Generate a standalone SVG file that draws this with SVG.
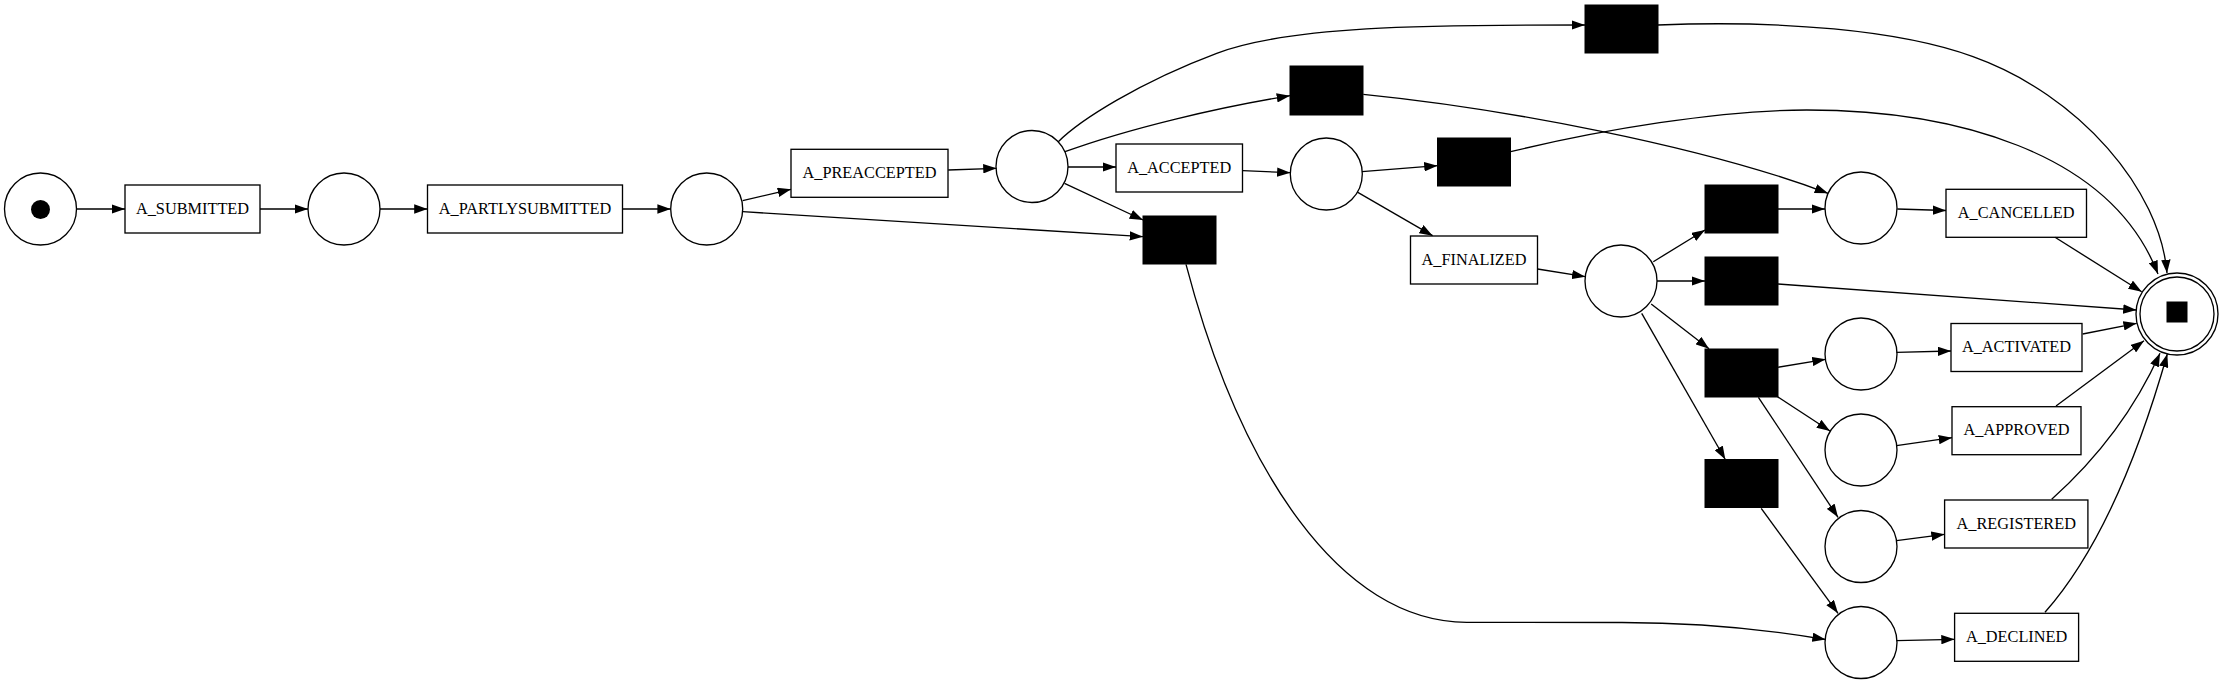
<svg xmlns="http://www.w3.org/2000/svg" width="2224" height="684" viewBox="0 0 2224 684">
<style>
.pl{fill:#fff;stroke:#000;stroke-width:1.33}
.tr{fill:#fff;stroke:#000;stroke-width:1.33}
.sil{fill:#000;stroke:#000;stroke-width:1}
.lb{font-family:"Liberation Serif","Times New Roman",serif;font-size:16.3px;fill:#000;text-anchor:middle}
.e{fill:none;stroke:#000;stroke-width:1.33;marker-end:url(#ah)}
</style>
<defs>
<marker id="ah" viewBox="0 0 13.3 9.4" refX="13.3" refY="4.7" markerWidth="13.3" markerHeight="9.4" markerUnits="userSpaceOnUse" orient="auto">
<path d="M0,0 L13.3,4.7 L0,9.4 z" fill="#000"/>
</marker>
</defs>
<rect width="2224" height="684" fill="#fff"/>
<g id="nodes">
<g id="p_start"><circle class="pl" cx="40.5" cy="209" r="36"/><circle cx="40.5" cy="209.5" r="9.5" fill="#000"/></g>
<g id="t_submitted"><rect class="tr" x="125" y="185" width="135" height="48"/><text class="lb" x="192.5" y="213.5">A_SUBMITTED</text></g>
<g id="p1"><circle class="pl" cx="344" cy="209" r="36"/></g>
<g id="t_partly"><rect class="tr" x="427.5" y="185" width="195" height="48"/><text class="lb" x="525" y="213.5">A_PARTLYSUBMITTED</text></g>
<g id="p2"><circle class="pl" cx="706.7" cy="209" r="36"/></g>
<g id="t_preaccepted"><rect class="tr" x="791" y="149.3" width="157" height="48"/><text class="lb" x="869.5" y="177.8">A_PREACCEPTED</text></g>
<g id="p3"><circle class="pl" cx="1032" cy="166.5" r="36"/></g>
<g id="t_accepted"><rect class="tr" x="1116" y="144" width="126.5" height="48"/><text class="lb" x="1179.2" y="172.5">A_ACCEPTED</text></g>
<g id="tau_top"><rect class="sil" x="1585" y="5" width="73" height="48"/></g>
<g id="tau2"><rect class="sil" x="1290" y="66" width="73" height="49"/></g>
<g id="p4"><circle class="pl" cx="1326.3" cy="174" r="36"/></g>
<g id="tau3"><rect class="sil" x="1437.5" y="138" width="73" height="48"/></g>
<g id="tau1"><rect class="sil" x="1143" y="216" width="73" height="48"/></g>
<g id="t_finalized"><rect class="tr" x="1410.5" y="236" width="127" height="48"/><text class="lb" x="1474" y="264.5">A_FINALIZED</text></g>
<g id="p5"><circle class="pl" cx="1621" cy="281" r="36"/></g>
<g id="tau4"><rect class="sil" x="1705" y="185" width="73" height="48"/></g>
<g id="tau5"><rect class="sil" x="1705" y="257" width="73" height="48"/></g>
<g id="tau6"><rect class="sil" x="1705" y="349" width="73" height="48"/></g>
<g id="tau7"><rect class="sil" x="1705" y="459.5" width="73" height="48"/></g>
<g id="p_canc"><circle class="pl" cx="1861" cy="208" r="36"/></g>
<g id="p_act"><circle class="pl" cx="1861" cy="354" r="36"/></g>
<g id="p_app"><circle class="pl" cx="1861" cy="450" r="36"/></g>
<g id="p_reg"><circle class="pl" cx="1861" cy="546.5" r="36"/></g>
<g id="p_dec"><circle class="pl" cx="1861" cy="642.5" r="36"/></g>
<g id="t_cancelled"><rect class="tr" x="1946" y="189.3" width="140.5" height="48"/><text class="lb" x="2016.2" y="217.8">A_CANCELLED</text></g>
<g id="t_activated"><rect class="tr" x="1951" y="323.5" width="131" height="48"/><text class="lb" x="2016.5" y="352">A_ACTIVATED</text></g>
<g id="t_approved"><rect class="tr" x="1952" y="406.7" width="129" height="48"/><text class="lb" x="2016.5" y="435.2">A_APPROVED</text></g>
<g id="t_registered"><rect class="tr" x="1944.6" y="500" width="143.3" height="48"/><text class="lb" x="2016.2" y="528.5">A_REGISTERED</text></g>
<g id="t_declined"><rect class="tr" x="1954.6" y="613.3" width="124" height="48"/><text class="lb" x="2016.6" y="641.8">A_DECLINED</text></g>
<g id="p_end"><circle class="pl" cx="2177" cy="314" r="41"/><circle class="pl" cx="2177" cy="314" r="37"/><rect x="2166.5" y="301.5" width="21" height="21" fill="#000"/></g>
</g>
<g id="connectors">
<path class="e" d="M76.5,209 L125,209"/>
<path class="e" d="M260,209 L308,209"/>
<path class="e" d="M380,209 L427.5,209"/>
<path class="e" d="M622.5,209 L670.7,209"/>
<path class="e" d="M742.7,200.7 L791,189.3"/>
<path class="e" d="M742.7,211.7 L1143,236.7"/>
<path class="e" d="M948.2,170 L996.5,168.3"/>
<path class="e" d="M1068,167 L1116,167"/>
<path class="e" d="M1064.5,183.3 L1143,220"/>
<path class="e" d="M1065,151.7 C1130,128 1220,107 1290,95.7"/>
<path class="e" d="M1058.3,141.7 C1080,120 1140,82 1216.7,53.3 C1290,26 1420,25 1585,25"/>
<path class="e" d="M1242.7,170.7 L1290.4,172.7"/>
<path class="e" d="M1362,171.7 L1437.5,165.7"/>
<path class="e" d="M1357.4,192.1 L1432.6,235.7"/>
<path class="e" d="M1537.5,269 L1585.3,276.7"/>
<path class="e" d="M1653.3,261.7 L1705,230"/>
<path class="e" d="M1657,281 L1705,281"/>
<path class="e" d="M1651.2,304 L1709,348.7"/>
<path class="e" d="M1641.7,313.3 L1725.3,459.5"/>
<path class="e" d="M1777.7,209 L1825,209"/>
<path class="e" d="M1363.3,94.3 C1500,108 1700,145 1828,193.3"/>
<path class="e" d="M1510.7,151.7 C1600,130 1720,110 1806.7,110 C1950,110 2110,150 2158,274"/>
<path class="e" d="M1657.7,25 C1780,20 1900,30 1973,56.7 C2080,95 2160,190 2167,273"/>
<path class="e" d="M1186,264.3 C1240,470 1340,622.3 1466.7,622.3 L1622,622.5 C1700,622.5 1770,630 1825.6,639.5"/>
<path class="e" d="M1777.7,284 L2136.5,310"/>
<path class="e" d="M1777.5,367.3 L1825.6,359.3"/>
<path class="e" d="M1777.5,396.7 L1830,431"/>
<path class="e" d="M1758.4,397.3 L1838,517.3"/>
<path class="e" d="M1761.2,508.3 L1838,613.3"/>
<path class="e" d="M1897.3,209 L1946,210.5"/>
<path class="e" d="M1896.5,352.3 L1951,351"/>
<path class="e" d="M1896.5,445.7 L1952,437.7"/>
<path class="e" d="M1896.5,540.7 L1944.6,534.3"/>
<path class="e" d="M1896.5,640.7 L1954.6,639.3"/>
<path class="e" d="M2055,237.3 L2141.7,291.7"/>
<path class="e" d="M2082.7,334 L2136.7,323.3"/>
<path class="e" d="M2056,406 L2144,340.7"/>
<path class="e" d="M2051.7,499.3 C2090,465 2130,420 2160,353.3"/>
<path class="e" d="M2045,612.3 C2100,550 2140,450 2167.3,354"/>
</g>
</svg>
